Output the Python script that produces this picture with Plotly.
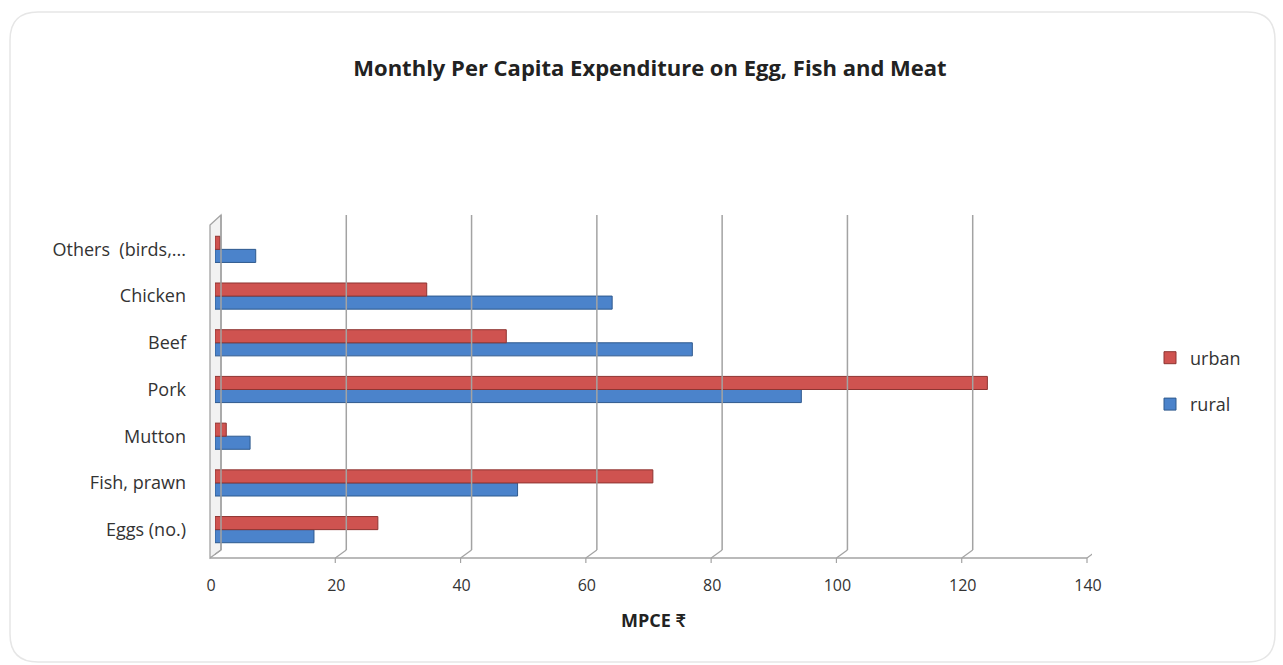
import plotly.graph_objects as go

categories = ["Eggs (no.)", "Fish, prawn", "Mutton", "Pork", "Beef", "Chicken", "Others  (birds,..."]
rural = [15.8, 48.3, 5.6, 93.6, 76.2, 63.4, 6.5]
urban = [26.0, 69.9, 1.8, 123.3, 46.5, 33.8, 0.8]
x_ticks = [0, 20, 40, 60, 80, 100, 120, 140]

RED = "#CF5350"
BLUE = "#4B83CB"
GRID = "#A3A3A3"
FONT = "'Open Sans', Lato, sans-serif"

fig = go.Figure()
fig.add_trace(go.Bar(
    y=categories, x=rural, name="rural", orientation="h",
    marker=dict(color=BLUE, line=dict(color="#2F5A8E", width=1)),
    legendgroup="rural", legendrank=2,
))
fig.add_trace(go.Bar(
    y=categories, x=urban, name="urban", orientation="h",
    marker=dict(color=RED, line=dict(color="#8E3532", width=1)),
    legendgroup="urban", legendrank=1,
))

# plot-area geometry in pixels
L, R, T, B = 215, 1092, 226, 553
W, H = R - L, B - T


def py(p):  # pixel y -> paper y
    return (B - p) / H


def px(p):  # pixel x -> paper x
    return (p - L) / W


shapes = []
# back-wall gridlines, slanted floor connectors, front ticks
for v in x_ticks:
    shapes.append(dict(type="line", xref="x", xsizemode="pixel", xanchor=v, x0=6, x1=6,
                       yref="paper", y0=py(550), y1=py(215), line=dict(color=GRID, width=1.5)))
    shapes.append(dict(type="line", xref="x", xsizemode="pixel", xanchor=v, x0=-5, x1=6,
                       yref="paper", y0=py(558), y1=py(550), line=dict(color=GRID, width=1.2)))
    shapes.append(dict(type="line", xref="x", xsizemode="pixel", xanchor=v, x0=-5, x1=-5,
                       yref="paper", y0=py(558), y1=py(563), line=dict(color=GRID, width=1.2)))
# front floor edge
shapes.append(dict(type="line", xref="paper", x0=px(210), x1=px(1087),
                   yref="paper", y0=py(558), y1=py(558), line=dict(color=GRID, width=1.5)))
# left wall
shapes.append(dict(type="path", xref="paper", yref="paper",
                   path=f"M {px(210)} {py(558)} L {px(210)} {py(225)} L {px(221)} {py(215)} "
                        f"L {px(221)} {py(550)} Z",
                   fillcolor="#F2F2F2", line=dict(color=GRID, width=1.3), layer="below"))

# rounded card border
x0c, x1c, y0c, y1c = px(10), px(1275), py(662), py(12)
rx, ry = 28 / W, 28 / H
card = (f"M {x0c + rx} {y1c} L {x1c - rx} {y1c} Q {x1c} {y1c} {x1c} {y1c - ry} "
        f"L {x1c} {y0c + ry} Q {x1c} {y0c} {x1c - rx} {y0c} "
        f"L {x0c + rx} {y0c} Q {x0c} {y0c} {x0c} {y0c + ry} "
        f"L {x0c} {y1c - ry} Q {x0c} {y1c} {x0c + rx} {y1c} Z")
shapes.append(dict(type="path", xref="paper", yref="paper", path=card,
                   line=dict(color="#E6E6E6", width=1.5), layer="below"))

fig.update_layout(
    width=1283, height=665,
    margin=dict(l=L, r=1283 - R, t=T, b=665 - B, autoexpand=False),
    paper_bgcolor="white", plot_bgcolor="rgba(0,0,0,0)",
    barmode="group", bargap=0.44, bargroupgap=0,
    font=dict(family=FONT, size=16, color="#333333"),
    title=dict(text="<b>Monthly Per Capita Expenditure on Egg, Fish and Meat</b>",
               x=650 / 1283, xanchor="center", y=1 - 68 / 665, yanchor="middle",
               font=dict(family=FONT, size=22, color="#222222")),
    xaxis=dict(range=[0, 140], tickvals=x_ticks, showgrid=False, zeroline=False,
               showline=False, ticks="", ticklabelshift=-4, ticklabelstandoff=21,
               tickfont=dict(size=16, color="#333333"),
               title=dict(text="<b>MPCE ₹</b>", standoff=19, font=dict(size=18, color="#222222")),
               fixedrange=True),
    yaxis=dict(showgrid=False, zeroline=False, showline=False, ticks="",
               ticklabelstandoff=28, tickfont=dict(size=18, color="#333333"),
               range=[-0.5, 6.5], fixedrange=True),
    legend=dict(x=px(1150), xanchor="left", y=py(381), yanchor="middle",
                traceorder="grouped", tracegroupgap=20,
                font=dict(size=18, color="#333333"), itemwidth=30),
    showlegend=True,
    shapes=shapes,
)

fig.write_html("out.html")
